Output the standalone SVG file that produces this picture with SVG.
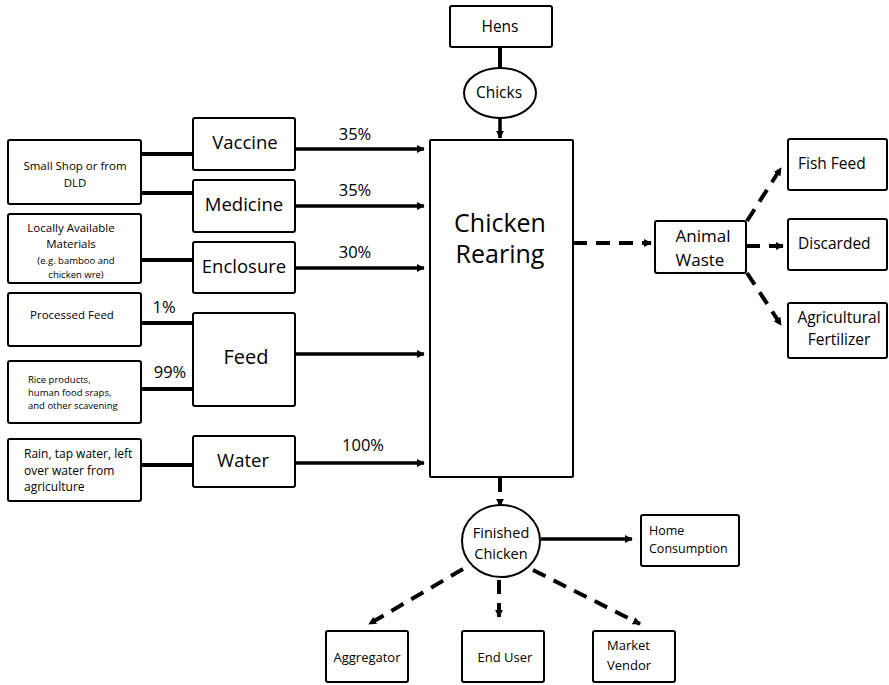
<svg xmlns="http://www.w3.org/2000/svg" width="889" height="685" viewBox="0 0 889 685">
<style>
.box{fill:#fff;stroke:#000;stroke-width:2}
.t{font-family:"Open Sans","Liberation Sans",sans-serif;fill:#000}
.s{font-weight:500}
.c{text-anchor:middle}
.ln{stroke:#000;stroke-width:4;fill:none}
.ar{stroke:#000;stroke-width:3.5;fill:none;marker-end:url(#ah)}
.da{stroke:#000;stroke-width:4;fill:none;stroke-dasharray:14 9;marker-end:url(#ah)}
</style>
<defs>
<marker id="ah" viewBox="0 0 10 10" refX="9" refY="5" markerWidth="8" markerHeight="9" markerUnits="userSpaceOnUse" orient="auto">
<path d="M0,0 L10,5 L0,10 z" fill="#000"/>
</marker>
</defs>
<rect width="889" height="685" fill="#fff"/>

<g id="connectors">
<line class="ln" x1="500" y1="47" x2="500" y2="68"/>
<line class="ar" x1="500" y1="118" x2="500" y2="138"/>
<line class="ln" x1="141" y1="154" x2="193" y2="154"/>
<line class="ln" x1="141" y1="193" x2="193" y2="193"/>
<line class="ln" x1="141" y1="260" x2="193" y2="260"/>
<line class="ln" x1="141" y1="323" x2="193" y2="323"/>
<line class="ln" x1="141" y1="389" x2="193" y2="389"/>
<line class="ln" x1="141" y1="465" x2="193" y2="465"/>
<line class="ar" x1="295" y1="149" x2="424" y2="149"/>
<line class="ar" x1="295" y1="206" x2="424" y2="206"/>
<line class="ar" x1="295" y1="268" x2="424" y2="268"/>
<line class="ar" x1="295" y1="354" x2="424" y2="354"/>
<line class="ar" x1="295" y1="463" x2="424" y2="463"/>
<line class="da" x1="573" y1="243" x2="651" y2="243"/>
<line class="da" x1="747" y1="221" x2="781" y2="168"/>
<line class="da" x1="746" y1="246" x2="783" y2="246"/>
<line class="da" x1="747" y1="273" x2="781" y2="325"/>
<line class="da" x1="500" y1="478" x2="500" y2="506"/>
<line class="ar" x1="541" y1="539" x2="632" y2="539"/>
<line class="da" x1="463" y1="569" x2="369" y2="624"/>
<line class="da" x1="499" y1="580" x2="499" y2="617"/>
<line class="da" x1="533" y1="570" x2="640" y2="624"/>
</g>

<g id="hens"><rect class="box" x="450" y="6" width="102" height="41" rx="2"/><text class="t s c" x="500" y="32" font-size="15.5">Hens</text></g>
<g id="chicks"><ellipse class="box" cx="500" cy="93" rx="36" ry="25"/><text class="t s c" x="499" y="98" font-size="15.5">Chicks</text></g>
<g id="rearing"><rect class="box" x="430" y="140" width="143" height="337" rx="1"/>
<text class="t c" x="500" y="232" font-size="25">Chicken</text><text class="t c" x="500" y="263" font-size="25">Rearing</text></g>

<g id="smallshop"><rect class="box" x="8" y="140" width="133" height="64" rx="2"/>
<text class="t s c" x="75" y="170" font-size="11.5">Small Shop or from</text><text class="t s c" x="75" y="187" font-size="11.5">DLD</text></g>
<g id="local"><rect class="box" x="8" y="214" width="133" height="69" rx="2"/>
<text class="t s c" x="71" y="232" font-size="11.5">Locally Available</text><text class="t s c" x="71" y="248" font-size="11.5">Materials</text>
<text class="t s c" x="76" y="264" font-size="9.5">(e.g. bamboo and</text><text class="t s c" x="76" y="278" font-size="9.5">chicken wre)</text></g>
<g id="processed"><rect class="box" x="8" y="293" width="133" height="53" rx="2"/><text class="t s c" x="72" y="319" font-size="11.5">Processed Feed</text></g>
<g id="rice"><rect class="box" x="8" y="361" width="133" height="62" rx="2"/>
<text class="t s" x="28" y="383" font-size="9.5">Rice products,</text><text class="t s" x="28" y="396" font-size="9.5">human food sraps,</text><text class="t s" x="28" y="409" font-size="9.5">and other scavening</text></g>
<g id="rain"><rect class="box" x="8" y="439" width="133" height="62" rx="2"/>
<text class="t s" x="24" y="458" font-size="12">Rain, tap water, left</text><text class="t s" x="24" y="475" font-size="12">over water from</text><text class="t s" x="24" y="491" font-size="12">agriculture</text></g>

<g id="vaccine"><rect class="box" x="193" y="118" width="102" height="52" rx="2"/><text class="t c" x="245" y="149" font-size="18.5">Vaccine</text></g>
<g id="medicine"><rect class="box" x="193" y="180" width="102" height="52" rx="2"/><text class="t c" x="244" y="211" font-size="18.5">Medicine</text></g>
<g id="enclosure"><rect class="box" x="193" y="242" width="102" height="51" rx="2"/><text class="t c" x="244" y="273" font-size="18.5">Enclosure</text></g>
<g id="feed"><rect class="box" x="193" y="313" width="102" height="93" rx="2"/><text class="t c" x="246" y="364" font-size="20">Feed</text></g>
<g id="water"><rect class="box" x="193" y="436" width="102" height="51" rx="2"/><text class="t c" x="243" y="467" font-size="18.5">Water</text></g>

<g id="labels">
<text class="t s c" x="355" y="140" font-size="16.5">35%</text>
<text class="t s c" x="355" y="196" font-size="16.5">35%</text>
<text class="t s c" x="355" y="258" font-size="16.5">30%</text>
<text class="t s c" x="164" y="313" font-size="16.5">1%</text>
<text class="t s c" x="170" y="378" font-size="16.5">99%</text>
<text class="t s c" x="363" y="451" font-size="16.5">100%</text>
</g>

<g id="animalwaste"><rect class="box" x="655" y="221" width="91" height="52" rx="2"/>
<text class="t c" x="703" y="242" font-size="17">Animal</text><text class="t c" x="700" y="266" font-size="17">Waste</text></g>
<g id="fishfeed"><rect class="box" x="788" y="139" width="99" height="51" rx="2"/><text class="t s" x="798" y="169" font-size="15.5">Fish Feed</text></g>
<g id="discarded"><rect class="box" x="788" y="219" width="99" height="51" rx="2"/><text class="t s" x="798" y="249" font-size="15.5">Discarded</text></g>
<g id="fertilizer"><rect class="box" x="788" y="303" width="99" height="55" rx="2"/>
<text class="t s c" x="839" y="323" font-size="15.5">Agricultural</text><text class="t s c" x="839" y="345" font-size="15.5">Fertilizer</text></g>

<g id="finished"><ellipse class="box" cx="501" cy="541" rx="39" ry="36"/>
<text class="t s c" x="501" y="538" font-size="14.5">Finished</text><text class="t s c" x="501" y="559" font-size="14.5">Chicken</text></g>
<g id="home"><rect class="box" x="641" y="515" width="98" height="51" rx="2"/>
<text class="t s" x="649" y="535" font-size="12.5">Home</text><text class="t s" x="649" y="553" font-size="12.5">Consumption</text></g>
<g id="aggregator"><rect class="box" x="326" y="631" width="82" height="51" rx="2"/><text class="t s c" x="367" y="662" font-size="13">Aggregator</text></g>
<g id="enduser"><rect class="box" x="462" y="631" width="82" height="51" rx="2"/><text class="t s c" x="505" y="662" font-size="13">End User</text></g>
<g id="market"><rect class="box" x="593" y="631" width="82" height="51" rx="2"/>
<text class="t s" x="607" y="650" font-size="13">Market</text><text class="t s" x="607" y="670" font-size="13">Vendor</text></g>
</svg>
